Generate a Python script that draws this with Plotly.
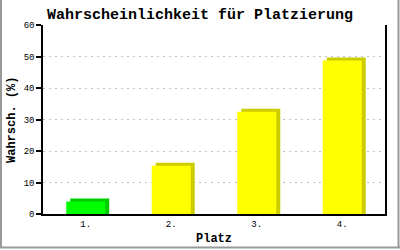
import plotly.graph_objects as go

categories = ["1.", "2.", "3.", "4."]
values = [4.0, 15.3, 32.5, 48.7]
front_colors = ["#00ff00", "#ffff00", "#ffff00", "#ffff00"]
back_colors = ["#00cc00", "#cccc00", "#cccc00", "#cccc00"]
y_ticks = [0, 10, 20, 30, 40, 50, 60]

W, H = 400, 250
ml, mr, mt, mb = 43, 15, 25, 36
pw, ph = W - ml - mr, H - mt - mb
ymax = 60
px_per_cat = pw / len(categories)
px_per_unit = ph / ymax
bw = 39 / px_per_cat
dx = 4 / px_per_cat
dy = 3 / px_per_unit

fig = go.Figure()
fig.add_trace(go.Bar(
    x=categories, y=[v + dy for v in values], width=bw, offset=-bw / 2 + dx,
    marker=dict(color=back_colors, line=dict(width=0)), hoverinfo="skip"))
fig.add_trace(go.Bar(
    x=categories, y=values, width=bw, offset=-bw / 2,
    marker=dict(color=front_colors, line=dict(width=0))))

mono = "Liberation Mono"

def px_x(p):
    return (p - ml) / pw

def px_y(p):
    return (H - mb - p) / ph

border = "#999999"
for x0, y0, x1, y1 in [
    (1, 0, 1, 248), (398.5, 0, 398.5, 248), (0, 247.5, 400, 247.5)]:
    fig.add_shape(type="line", xref="paper", yref="paper",
                  x0=px_x(x0), y0=px_y(y0), x1=px_x(x1), y1=px_y(y1),
                  line=dict(color=border, width=2))

fig.add_annotation(text="<b>Platz</b>", xref="paper", yref="paper",
                   x=px_x(214), y=px_y(239), xanchor="center", yanchor="middle",
                   showarrow=False, font=dict(family=mono, size=12, color="black"))
fig.add_annotation(text="<b>Wahrsch. (%)</b>", xref="paper", yref="paper",
                   x=px_x(12), y=px_y(120), xanchor="center", yanchor="middle",
                   textangle=-90, showarrow=False,
                   font=dict(family=mono, size=12, color="black"))

fig.update_layout(
    width=W, height=H, margin=dict(l=ml, r=mr, t=mt, b=mb, autoexpand=False),
    paper_bgcolor="white", plot_bgcolor="white", showlegend=False,
    barmode="overlay",
    title=dict(text="<b>Wahrscheinlichkeit für Platzierung</b>",
               x=0.5, xref="container", xanchor="center",
               y=1 - 14 / H, yanchor="middle",
               font=dict(family=mono, size=15, color="black")),
    xaxis=dict(
        type="category", showgrid=False, showline=True, linecolor="black",
        linewidth=1.5, ticks="", tickfont=dict(family=mono, size=9, color="black"),
        automargin=False, zeroline=False),
    yaxis=dict(
        range=[0, ymax], tickvals=y_ticks, showgrid=True, gridcolor="#c0c0c0",
        griddash="2px,4px", gridwidth=1, showline=True, linecolor="black",
        linewidth=1.5, mirror=True, ticks="outside", ticklen=5, tickwidth=1.5,
        tickcolor="black", tickfont=dict(family=mono, size=9, color="black"),
        automargin=False, zeroline=False),
)

fig.write_html("out.html")
